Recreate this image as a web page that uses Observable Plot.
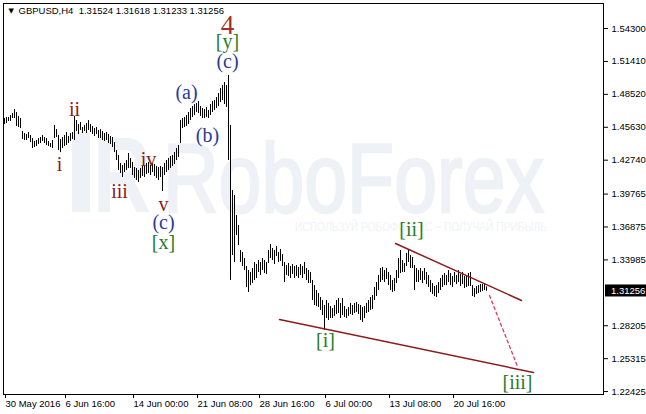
<!DOCTYPE html>
<html><head><meta charset="utf-8">
<script src="https://cdn.jsdelivr.net/npm/d3@7"></script>
<script src="https://cdn.jsdelivr.net/npm/@observablehq/plot@0.6"></script>
<style>
html,body{margin:0;padding:0;background:#fff;}
#chart{width:646px;height:414px;overflow:hidden;}
#chart text{white-space:pre;}
</style></head><body><div id="chart"></div>
<script>
// ---- data ----
const symbolInfo = "GBPUSD,H4  1.31524 1.31618 1.31233 1.31256";
const lastPrice = 1.31256;

// H4 bars (high / low), left to right
const high = [
1.4640,1.4649,1.4649,1.4666,1.4684,1.4719,1.4693,1.4658,1.4640,1.4526,
1.4508,1.4499,1.4517,1.4491,1.4464,1.4438,1.4447,1.4464,1.4473,1.4491,
1.4473,1.4464,1.4438,1.4420,1.4447,1.4579,1.4543,1.4491,1.4456,1.4473,
1.4491,1.4517,1.4482,1.4508,1.4517,1.4658,1.4622,1.4587,1.4605,1.4561,
1.4579,1.4596,1.4622,1.4587,1.4570,1.4552,1.4561,1.4535,1.4543,1.4526,
1.4508,1.4517,1.4499,1.4482,1.4473,1.4429,1.4359,1.4315,1.4245,1.4227,
1.4245,1.4271,1.4333,1.4289,1.4254,1.4210,1.4201,1.4183,1.4201,1.4219,
1.4227,1.4245,1.4254,1.4227,1.4245,1.4236,1.4219,1.4210,1.4219,1.4210,
1.4245,1.4271,1.4289,1.4306,1.4315,1.4341,1.4377,1.4403,1.4622,1.4640,
1.4649,1.4666,1.4693,1.4728,1.4745,1.4763,1.4772,1.4789,1.4745,1.4728,
1.4719,1.4737,1.4710,1.4763,1.4789,1.4798,1.4824,1.4859,1.4903,1.4930,
1.4956,1.4930,1.5018,1.4579,1.4008,1.3964,1.3788,1.3701,1.3481,1.3463,
1.3411,1.3341,1.3305,1.3288,1.3323,1.3376,1.3358,1.3393,1.3376,1.3411,
1.3393,1.3376,1.3481,1.3534,1.3499,1.3481,1.3516,1.3463,1.3490,1.3446,
1.3376,1.3349,1.3367,1.3341,1.3358,1.3341,1.3349,1.3332,1.3358,1.3341,
1.3376,1.3323,1.3305,1.3288,1.3218,1.3173,1.3130,1.3103,1.3068,1.3042,
1.2998,1.3042,1.3016,1.2989,1.2972,1.2998,1.3042,1.3060,1.3016,1.3060,
1.2989,1.2963,1.2980,1.3016,1.2998,1.3016,1.3024,1.3007,1.2998,1.2980,
1.2989,1.3016,1.3042,1.3068,1.3086,1.3156,1.3200,1.3262,1.3323,1.3332,
1.3305,1.3323,1.3288,1.3262,1.3218,1.3235,1.3305,1.3411,1.3481,1.3393,
1.3367,1.3455,1.3490,1.3437,1.3420,1.3349,1.3323,1.3305,1.3323,1.3297,
1.3323,1.3288,1.3262,1.3218,1.3191,1.3165,1.3173,1.3200,1.3235,1.3262,
1.3279,1.3262,1.3305,1.3279,1.3253,1.3288,1.3262,1.3305,1.3270,1.3288,
1.3253,1.3262,1.3279,1.3288,1.3173,1.3147,1.3165,1.3173,1.3182,1.3182,
1.3191,1.31618];
const low = [
1.4587,1.4596,1.4614,1.4614,1.4640,1.4640,1.4570,1.4561,1.4552,1.4456,
1.4447,1.4447,1.4464,1.4429,1.4377,1.4385,1.4394,1.4412,1.4420,1.4438,
1.4420,1.4403,1.4394,1.4385,1.4377,1.4464,1.4473,1.4359,1.4341,1.4377,
1.4394,1.4403,1.4420,1.4438,1.4456,1.4447,1.4526,1.4499,1.4535,1.4508,
1.4526,1.4508,1.4535,1.4517,1.4499,1.4482,1.4499,1.4464,1.4464,1.4447,
1.4438,1.4447,1.4420,1.4412,1.4385,1.4341,1.4271,1.4183,1.4157,1.4122,
1.4166,1.4183,1.4201,1.4201,1.4139,1.4113,1.4096,1.4078,1.4113,1.4131,
1.4122,1.4148,1.4157,1.4139,1.4166,1.4131,1.4113,1.4096,1.4122,1.3999,
1.4139,1.4166,1.4183,1.4201,1.4219,1.4236,1.4271,1.4298,1.4420,1.4552,
1.4561,1.4570,1.4587,1.4622,1.4649,1.4666,1.4693,1.4684,1.4658,1.4640,
1.4640,1.4649,1.4640,1.4666,1.4693,1.4710,1.4728,1.4745,1.4780,1.4798,
1.4763,1.4737,1.4271,1.3218,1.3437,1.3376,1.3613,1.3525,1.3376,1.3341,
1.3305,1.3156,1.3112,1.3173,1.3191,1.3218,1.3235,1.3288,1.3262,1.3305,
1.3279,1.3270,1.3367,1.3411,1.3393,1.3358,1.3428,1.3376,1.3384,1.3341,
1.3200,1.3262,1.3253,1.3235,1.3270,1.3235,1.3253,1.3235,1.3262,1.3235,
1.3270,1.3218,1.3191,1.3191,1.3042,1.2998,1.2989,1.2980,1.2954,1.2910,
1.2779,1.2884,1.2866,1.2884,1.2884,1.2902,1.2919,1.2928,1.2884,1.2910,
1.2893,1.2884,1.2902,1.2919,1.2910,1.2928,1.2937,1.2919,1.2866,1.2849,
1.2884,1.2928,1.2937,1.2954,1.2963,1.3042,1.3077,1.3130,1.3200,1.3218,
1.3200,1.3226,1.3173,1.3130,1.3112,1.3121,1.3191,1.3235,1.3279,1.3288,
1.3288,1.3341,1.3376,1.3323,1.3323,1.3130,1.3200,1.3200,1.3218,1.3191,
1.3218,1.3182,1.3156,1.3112,1.3095,1.3077,1.3068,1.3103,1.3130,1.3156,
1.3173,1.3173,1.3200,1.3173,1.3156,1.3200,1.3182,1.3200,1.3165,1.3182,
1.3147,1.3156,1.3165,1.3165,1.3077,1.3068,1.3095,1.3103,1.3112,1.3121,
1.3130,1.31233];

// time axis: bar index of each label and its text
const timeTickIndex = [0, 30, 64, 96, 127, 160, 192, 224];
const timeTickLabels = ["30 May 2016", "6 Jun 16:00", "14 Jun 00:00", "21 Jun 08:00",
  "28 Jun 16:00", "6 Jul 00:00", "13 Jul 08:00", "20 Jul 16:00"];

// price axis
const priceTicks = [1.54300, 1.51410, 1.48520, 1.45630, 1.42740, 1.39765,
  1.36875, 1.33985, 1.28205, 1.25315, 1.22425];

// wave labels: text, bar index, price (baseline), degree
const waveText   = ["ii", "i", "iii", "iv", "v", "(c)", "[x]", "(a)", "(b)", "(c)", "[y]", "4", "[i]", "[ii]", "[iii]"];
const waveIndex  = [35, 27.5, 57.5, 72, 79.5, 79.5, 79.5, 91, 101.5, 111.5, 111.5, 111.5, 160.5, 203.5, 256.5];
const wavePrice  = [1.4666, 1.4183, 1.3946, 1.4227, 1.3832, 1.3674, 1.3490, 1.4807, 1.4438, 1.5079, 1.5255, 1.5386, 1.2638, 1.3604, 1.2269];
const waveDegree = ["minor", "minor", "minor", "minor", "minor", "minute", "minuette", "minute", "minute", "minute", "minuette", "major", "minuette", "minuette", "minuette"];

// channel lines and projection (bar index, price)
const lowerLine  = [{i: 137.5, p: 1.2875}, {i: 264.5, p: 1.2410}];
const upperLine  = [{i: 195.5, p: 1.3543}, {i: 258.5, p: 1.3042}];
const projection = [{i: 242.5, p: 1.3086}, {i: 256.5, p: 1.2463}];

// ---- build ----
const bars = high.map((h, i) => ({i, high: h, low: low[i]}));
const waves = waveText.map((t, k) => ({t, i: waveIndex[k], p: wavePrice[k], g: waveDegree[k]}));
const degreeStyle = {
  minor:    {fill: "#8b1c1c", fontSize: 20},
  minute:   {fill: "#2b3a99", fontSize: 20},
  minuette: {fill: "#2a7a2a", fontSize: 20},
  major:    {fill: "#a3312b", fontSize: 27}
};
const serif = "Liberation Serif, Times New Roman, serif";

const waveMarks = Object.keys(degreeStyle).map(g =>
  Plot.text(waves.filter(d => d.g === g), {
    x: "i", y: "p", text: "t", lineAnchor: "bottom", textAnchor: "middle",
    fontFamily: serif, fill: degreeStyle[g].fill, fontSize: degreeStyle[g].fontSize
  })
);

const plot = Plot.plot({
  width: 646, height: 414,
  marginLeft: 3, marginRight: 43, marginTop: 3, marginBottom: 20,
  style: {fontFamily: "Liberation Sans, Arial, sans-serif", fontSize: "9.5px", background: "white", color: "black"},
  x: {domain: [-0.5, 299.5]},
  y: {domain: [1.22167, 1.56497]},
  marks: [
    Plot.ruleX(bars, {x: "i", y1: "low", y2: "high", stroke: "black", strokeWidth: 1}),
    Plot.line(lowerLine, {x: "i", y: "p", stroke: "#8e1b1b", strokeWidth: 1.5}),
    Plot.line(upperLine, {x: "i", y: "p", stroke: "#8e1b1b", strokeWidth: 1.5}),
    Plot.line(projection, {x: "i", y: "p", stroke: "#e23a62", strokeWidth: 1.3, strokeDasharray: "3,3"}),
    ...waveMarks,
    Plot.frame({stroke: "black"}),
    Plot.axisY({anchor: "right", ticks: priceTicks, tickFormat: d => d.toFixed(5), tickSize: 4, tickPadding: 4, label: null}),
    Plot.axisX({anchor: "bottom", ticks: timeTickIndex, tickFormat: d => timeTickLabels[timeTickIndex.indexOf(d)],
      tickSize: 4, tickPadding: 2, textAnchor: "start", dx: 1, label: null}),
    Plot.text(["\u25BC"], {frameAnchor: "top-left", dx: 5, dy: 5, lineAnchor: "top", textAnchor: "start", fontSize: 7, fontFamily: "DejaVu Sans"}),
    Plot.text([symbolInfo], {frameAnchor: "top-left", dx: 15, dy: 4, lineAnchor: "top", textAnchor: "start", fontSize: 9.5})
  ]
});

document.getElementById("chart").appendChild(plot);

// ---- watermark (behind everything) and last-price label ----
const svg = d3.select(plot);
const xr = plot.scale("x").range;
const yS = plot.scale("y");
const wm = svg.insert("g", ":first-child").attr("pointer-events", "none").attr("text-anchor", "start");
svg.insert("rect", ":first-child").attr("width", 646).attr("height", 414).attr("fill", "white");
const wmColor = "#eef1f6";
wm.append("rect").attr("x", 72).attr("y", 132).attr("width", 18).attr("height", 80).attr("fill", wmColor);
wm.append("text").attr("x", 93).attr("y", 212).attr("text-anchor", "start").attr("font-family", "Liberation Sans, Arial, sans-serif")
  .attr("font-weight", "bold").attr("font-size", 108).attr("fill", wmColor)
  .attr("textLength", 58).attr("lengthAdjust", "spacingAndGlyphs").text("R");
wm.append("text").attr("x", 163).attr("y", 212).attr("text-anchor", "start").attr("font-family", "Liberation Sans, Arial, sans-serif")
  .attr("font-size", 98).attr("fill", wmColor).attr("stroke", wmColor).attr("stroke-width", 2.5)
  .attr("textLength", 381).attr("lengthAdjust", "spacingAndGlyphs").text("RoboForex");
wm.append("text").attr("x", 295).attr("y", 231).attr("text-anchor", "start").attr("font-family", "Liberation Sans, Arial, sans-serif")
  .attr("font-size", 13).attr("fill", "#f0f3f7")
  .attr("textLength", 252).attr("lengthAdjust", "spacingAndGlyphs").text("ИСПОЛЬЗУЙ РОБОФОРЕКС – ПОЛУЧАЙ ПРИБЫЛЬ");

const yLast = yS.apply(lastPrice);
const lp = svg.append("g").attr("text-anchor", "start");
lp.append("rect").attr("x", xr[1] + 2).attr("y", yLast - 6).attr("width", 41).attr("height", 12).attr("fill", "black");
lp.append("text").attr("x", xr[1] + 8).attr("y", yLast).attr("dy", "0.35em").attr("fill", "white")
  .attr("text-anchor", "start").attr("font-size", 9.5).text(lastPrice.toFixed(5));
</script></body></html>
